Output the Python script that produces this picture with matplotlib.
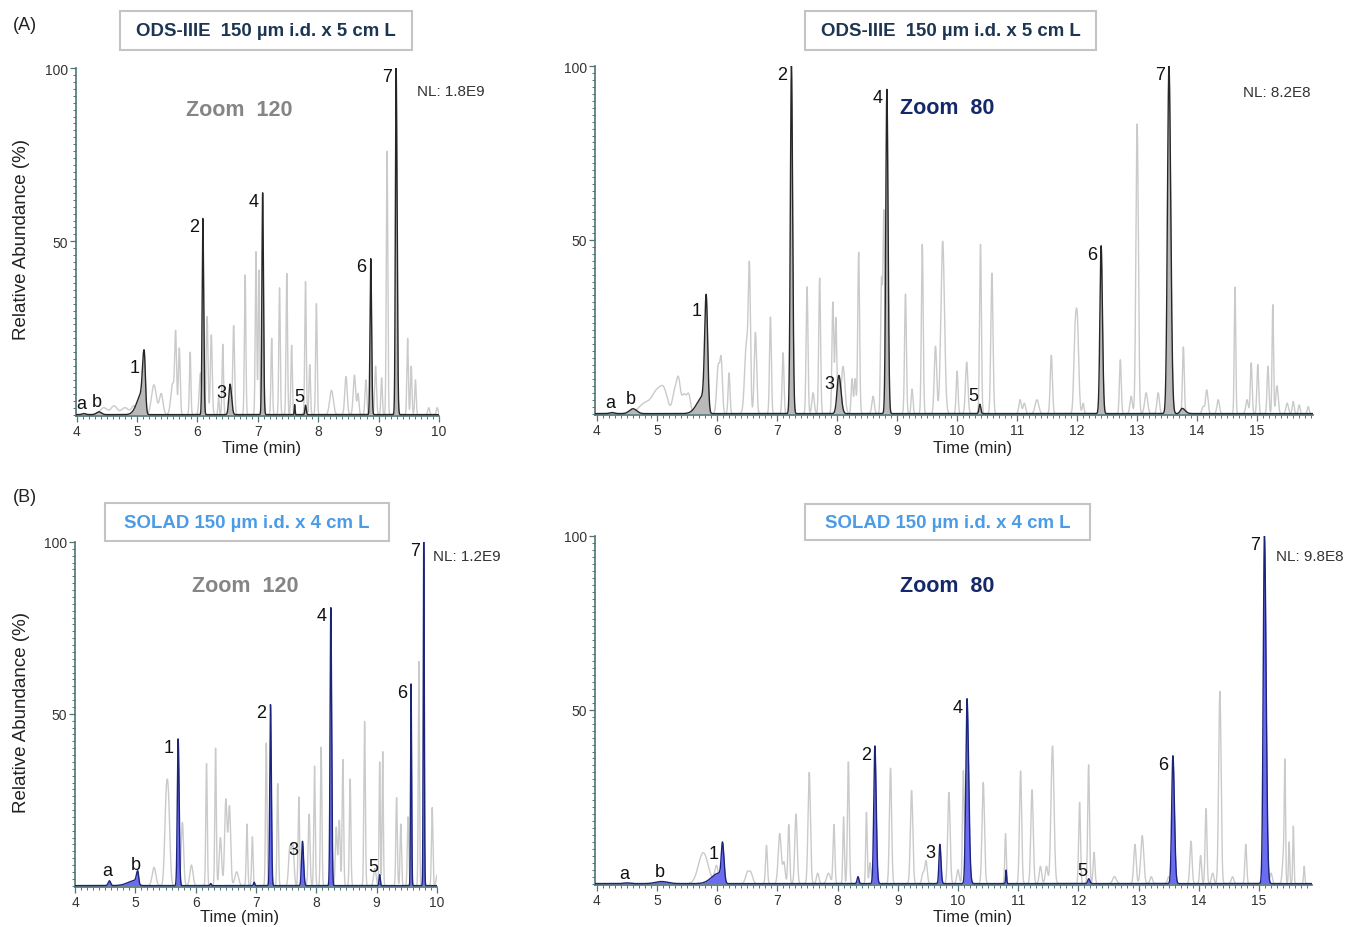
import numpy as np
import matplotlib
matplotlib.use("Agg")
import matplotlib.pyplot as plt
from matplotlib.patches import Rectangle
from matplotlib.ticker import MultipleLocator, FixedLocator

plt.rcParams['font.family'] = ['Liberation Sans', 'DejaVu Sans']

W, H = 1346, 928

# ---- (A) ODS-IIIE, zoom 120 : highlighted peaks ----
a120_x = [4.12, 4.37, 5.08, 5.12, 6.09, 6.54, 7.08, 7.61, 7.79, 8.87, 9.29]
a120_h = [0.3, 0.8, 6.0, 16.0, 56.6, 8.8, 64.0, 2.9, 2.7, 45.0, 100.0]
a120_wl = [0.03, 0.04, 0.08, 0.025, 0.012, 0.02, 0.012, 0.006, 0.01, 0.012, 0.012]
a120_wr = [0.03, 0.04, 0.03, 0.02, 0.014, 0.025, 0.014, 0.006, 0.012, 0.014, 0.016]
a120_lab = ['a', 'b', '', '1', '2', '3', '4', '', '5', '6', '7']
# background trace
a120_gx = [4.45, 4.62, 4.8, 4.95, 5.28, 5.4, 5.59, 5.64, 5.7, 5.88, 6.05, 6.16, 6.23,
           6.35, 6.42, 6.6, 6.79, 6.97, 7.02, 7.23, 7.36, 7.48, 7.56, 7.79, 7.86, 7.97,
           8.22, 8.46, 8.6, 8.66, 8.79, 8.95, 9.05, 9.14, 9.48, 9.54, 9.61, 9.83, 9.97]
a120_gh = [2.0, 2.5, 2.0, 2.5, 8.6, 6.0, 9.0, 22, 19.2, 18, 12, 28.3, 23,
           5, 20.3, 25.7, 40.3, 47, 41.7, 22, 36.6, 40.7, 20, 38.4, 14.4, 32,
           7, 11, 11.4, 6, 10, 14, 10.6, 76, 22, 14, 10, 2, 2]
a120_gw = [0.06, 0.05, 0.06, 0.04, 0.04, 0.03, 0.03, 0.015, 0.015, 0.012, 0.02, 0.015, 0.015,
           0.01, 0.012, 0.015, 0.012, 0.012, 0.012, 0.012, 0.012, 0.012, 0.012, 0.012, 0.012, 0.012,
           0.03, 0.02, 0.02, 0.015, 0.015, 0.015, 0.012, 0.012, 0.012, 0.012, 0.012, 0.015, 0.015]

# ---- (A) ODS-IIIE, zoom 80 ----
a80_x = [4.25, 4.6, 5.77, 5.82, 7.24, 8.03, 8.83, 10.38, 12.40, 13.53, 13.75]
a80_h = [0.3, 1.4, 5.0, 32.0, 100.0, 11.0, 93.3, 2.7, 48.3, 100.0, 1.5]
a80_wl = [0.04, 0.06, 0.1, 0.025, 0.018, 0.03, 0.018, 0.015, 0.02, 0.025, 0.03]
a80_wr = [0.04, 0.06, 0.04, 0.025, 0.02, 0.035, 0.02, 0.015, 0.022, 0.03, 0.05]
a80_lab = ['a', 'b', '', '1', '2', '3', '4', '5', '6', '7', '']
a80_gx = [4.8, 5.0, 5.12, 5.3, 5.36, 5.45, 5.53, 6.02, 6.07, 6.2, 6.49, 6.54, 6.64, 6.89,
          7.1, 7.5, 7.6, 7.71, 7.93, 7.98, 8.1, 8.25, 8.3, 8.36, 8.6, 8.74, 8.78, 9.14,
          9.25, 9.42, 9.64, 9.76, 10.0, 10.16, 10.39, 10.58, 11.05, 11.12, 11.33, 11.57,
          11.96, 12.0, 12.1, 12.72, 12.9, 13.0, 13.15, 13.35, 13.77, 14.1, 14.16, 14.35,
          14.63, 14.83, 14.9, 15.01, 15.18, 15.26, 15.33, 15.5, 15.6, 15.7, 15.85]
a80_gh = [3, 6, 5.5, 6.5, 8, 5.5, 5, 13.6, 14.5, 11.7, 20, 38.5, 23.4, 27.8,
          17.5, 36.5, 6, 39, 32, 27.5, 13.6, 10, 10, 46.4, 5, 37.5, 57.5, 34.4,
          7, 48.7, 19.4, 49.6, 12.2, 14.8, 48.7, 40.4, 4, 3, 4, 16.8,
          16, 27.3, 3, 15.5, 5, 83.3, 6, 6, 19.2, 2, 6.8, 4,
          36.4, 4, 14.6, 14.1, 13.6, 31.3, 8, 3, 3.5, 2.5, 2]
a80_gw = [0.1, 0.08, 0.06, 0.04, 0.03, 0.04, 0.03, 0.025, 0.02, 0.015, 0.03, 0.018, 0.02, 0.015,
          0.015, 0.015, 0.02, 0.015, 0.015, 0.015, 0.03, 0.015, 0.015, 0.015, 0.02, 0.015, 0.015, 0.015,
          0.015, 0.015, 0.02, 0.03, 0.015, 0.02, 0.015, 0.018, 0.02, 0.02, 0.03, 0.018,
          0.02, 0.025, 0.015, 0.015, 0.02, 0.02, 0.025, 0.02, 0.015, 0.02, 0.02, 0.02,
          0.012, 0.02, 0.015, 0.015, 0.015, 0.012, 0.02, 0.02, 0.015, 0.015, 0.015]

# ---- (B) SOLAD, zoom 120 ----
b120_x = [4.57, 5.0, 5.04, 5.71, 6.25, 6.97, 7.24, 7.77, 8.24, 9.05, 9.57, 9.78]
b120_h = [1.4, 1.5, 3.4, 42.7, 0.6, 1.0, 52.7, 12.9, 80.9, 3.2, 58.7, 100.0]
b120_wl = [0.02, 0.12, 0.02, 0.014, 0.01, 0.01, 0.012, 0.015, 0.012, 0.01, 0.008, 0.008]
b120_wr = [0.02, 0.04, 0.015, 0.016, 0.01, 0.01, 0.014, 0.018, 0.014, 0.01, 0.009, 0.009]
b120_lab = ['a', '', 'b', '1', '', '', '2', '3', '4', '5', '6', '7']
b120_gx = [5.31, 5.51, 5.55, 5.78, 5.93, 6.18, 6.33, 6.41, 6.5, 6.56, 6.68, 6.85, 6.94, 7.17,
           7.36, 7.56, 7.61, 7.71, 7.88, 7.97, 8.08, 8.33, 8.38, 8.44, 8.56, 8.8, 8.97, 9.05,
           9.1, 9.33, 9.4, 9.52, 9.7, 9.92, 10.0]
b120_gh = [5.3, 21.7, 21, 18.4, 6, 35.5, 40, 14, 25, 23, 4, 17.9, 14.2, 41.5,
           29.7, 11, 12, 25.8, 20.8, 34.8, 40.3, 17, 19, 36.7, 31, 47.8, 5, 36,
           39, 25.6, 17.9, 20, 65.2, 22.7, 3]
b120_gw = [0.03, 0.025, 0.025, 0.02, 0.025, 0.012, 0.012, 0.02, 0.02, 0.02, 0.03, 0.012, 0.012, 0.012,
           0.012, 0.02, 0.02, 0.012, 0.015, 0.012, 0.012, 0.015, 0.015, 0.012, 0.012, 0.012, 0.02, 0.01,
           0.01, 0.012, 0.012, 0.012, 0.01, 0.012, 0.015]

# ---- (B) SOLAD, zoom 80 ----
b80_x = [4.5, 5.08, 6.03, 6.09, 8.34, 8.62, 9.7, 10.15, 10.8, 12.17, 13.57, 15.09]
b80_h = [0.2, 0.6, 3.0, 11.0, 2.0, 39.6, 11.3, 53.2, 3.9, 1.4, 36.8, 100.0]
b80_wl = [0.05, 0.1, 0.12, 0.02, 0.015, 0.018, 0.015, 0.02, 0.008, 0.015, 0.02, 0.02]
b80_wr = [0.05, 0.1, 0.04, 0.025, 0.015, 0.022, 0.018, 0.028, 0.008, 0.02, 0.025, 0.028]
b80_lab = ['a', 'b', '', '1', '', '2', '3', '4', '', '5', '6', '7']
b80_gx = [5.77, 5.99, 6.5, 6.56, 6.82, 7.04, 7.11, 7.19, 7.31, 7.53, 7.67, 7.85, 7.94, 8.1,
          8.18, 8.48, 8.54, 8.88, 9.23, 9.42, 9.47, 9.85, 10.0, 10.09, 10.42, 10.79, 11.04,
          11.23, 11.37, 11.47, 11.57, 12.02, 12.17, 12.26, 12.6, 12.94, 13.06, 13.21, 13.5,
          13.87, 14.03, 14.12, 14.23, 14.35, 14.56, 14.78, 15.2, 15.41, 15.43, 15.5, 15.57, 15.75]
b80_gh = [8.9, 5, 3, 3, 11, 14.4, 6, 17, 20, 32, 3, 3, 17, 19.2,
          35, 20.5, 6, 33.2, 26.8, 3, 6.5, 26.2, 4, 32.5, 29.1, 14.4, 32.4,
          27, 5, 5, 39.6, 23.4, 34.2, 9, 2, 11.3, 13.8, 2, 2,
          12.2, 8.1, 21.6, 3, 55.3, 2, 11.3, 3, 9, 30.3, 12, 16.5, 5]
b80_gw = [0.08, 0.03, 0.03, 0.03, 0.015, 0.025, 0.02, 0.015, 0.02, 0.02, 0.02, 0.03, 0.015, 0.012,
          0.015, 0.012, 0.015, 0.018, 0.02, 0.02, 0.02, 0.02, 0.02, 0.015, 0.02, 0.012, 0.018,
          0.02, 0.02, 0.02, 0.025, 0.015, 0.015, 0.015, 0.03, 0.02, 0.025, 0.02, 0.02,
          0.018, 0.015, 0.015, 0.02, 0.02, 0.02, 0.015, 0.02, 0.02, 0.01, 0.01, 0.01, 0.01]


def trace(t, xs, hs, wl, wr):
    y = np.zeros_like(t)
    for x0, h, a, b in zip(xs, hs, wl, wr):
        w = np.where(t < x0, a, b)
        y += h * np.exp(-0.5 * ((t - x0) / w) ** 2)
    return y


def fx(px):
    return px / W


def fy(py):
    return 1 - py / H


fig = plt.figure(figsize=(W / 100, H / 100), dpi=100)

panels = [
    # axes rect in pixels (left, top, right, bottom), xlim, peaks, grey, fill, edge
    dict(rect=(76, 69, 439, 417), xlim=(3.99, 10.0), xt=range(4, 11),
         hi=(a120_x, a120_h, a120_wl, a120_wr, a120_lab), gr=(a120_gx, a120_gh, a120_gw),
         fill='#b9b9b9', edge='#262626'),
    dict(rect=(595, 67, 1313, 416), xlim=(3.967, 15.93), xt=range(4, 16),
         hi=(a80_x, a80_h, a80_wl, a80_wr, a80_lab), gr=(a80_gx, a80_gh, a80_gw),
         fill='#b9b9b9', edge='#262626'),
    dict(rect=(75, 543, 437, 888), xlim=(4.0, 10.0), xt=range(4, 11),
         hi=(b120_x, b120_h, b120_wl, b120_wr, b120_lab), gr=(b120_gx, b120_gh, b120_gw),
         fill='#6b6cf0', edge='#1b237a'),
    dict(rect=(595, 537, 1312, 886), xlim=(3.972, 15.88), xt=range(4, 16),
         hi=(b80_x, b80_h, b80_wl, b80_wr, b80_lab), gr=(b80_gx, b80_gh, b80_gw),
         fill='#6b6cf0', edge='#1b237a'),
]

spine_c = '#4f7474'
for p in panels:
    l, t_, r, b = p['rect']
    ax = fig.add_axes([fx(l), fy(b), fx(r - l), (b - t_) / H])
    t = np.linspace(p['xlim'][0], p['xlim'][1], 12000)
    gx, gh, gw = p['gr']
    yg = trace(t, gx, gh, gw, gw)
    ax.plot(t, yg, color='#cacaca', lw=1.0, zorder=1)
    hx, hh, hwl, hwr, hlab = p['hi']
    yh = trace(t, hx, hh, hwl, hwr)
    ax.fill_between(t, 0, yh, color=p['fill'], lw=0, zorder=2)
    ax.plot(t, yh, color=p['edge'], lw=1.0, zorder=3)
    for x0, h0, lab in zip(hx, hh, hlab):
        if not lab:
            continue
        if lab in ('a', 'b'):
            ax.annotate(lab, (x0, h0), xytext=(2, 1), textcoords='offset points',
                        ha='right', va='bottom', fontsize=13, color='#111111')
        elif h0 < 6:
            ax.annotate(lab, (x0, h0), xytext=(-1, 0), textcoords='offset points',
                        ha='right', va='bottom', fontsize=13, color='#111111')
        else:
            ax.annotate(lab, (x0, h0), xytext=(-3, -6), textcoords='offset points',
                        ha='right', va='center', fontsize=13, color='#111111')
    ax.set_xlim(*p['xlim'])
    ax.set_ylim(-0.4, 100)
    for s in ('top', 'right'):
        ax.spines[s].set_visible(False)
    for s in ('left', 'bottom'):
        ax.spines[s].set_color(spine_c)
        ax.spines[s].set_linewidth(1.2)
    ax.xaxis.set_major_locator(FixedLocator(list(p['xt'])))
    ax.xaxis.set_minor_locator(MultipleLocator(0.1))
    ax.yaxis.set_major_locator(FixedLocator([50, 100]))
    ax.yaxis.set_minor_locator(MultipleLocator(2))
    ax.tick_params(axis='both', which='major', length=4, width=0.9, color=spine_c,
                   labelsize=10, labelcolor='#333333', pad=2)
    ax.tick_params(axis='both', which='minor', length=2.5, width=0.7, color=spine_c)
    ax.set_facecolor('none')

# panel letters
fig.text(fx(25), fy(25), '(A)', fontsize=13, ha='center', va='center', color='#222222')
fig.text(fx(25), fy(498), '(B)', fontsize=13, ha='center', va='center', color='#222222')

# column titles in boxes
boxes = [
    ((120, 12, 412, 51), 'ODS-IIIE  150 µm i.d. x 5 cm L', '#1c3553'),
    ((805, 12, 1096, 51), 'ODS-IIIE  150 µm i.d. x 5 cm L', '#1c3553'),
    ((105, 504, 389, 542), 'SOLAD 150 µm i.d. x 4 cm L', '#4b9be6'),
    ((805, 505, 1090, 541), 'SOLAD 150 µm i.d. x 4 cm L', '#4b9be6'),
]
for (x0, y0, x1, y1), txt, c in boxes:
    fig.add_artist(Rectangle((fx(x0), fy(y1)), fx(x1 - x0), (y1 - y0) / H,
                             transform=fig.transFigure, fc='white', ec='#c4c4c4', lw=1.5))
    fig.text(fx((x0 + x1) / 2), fy((y0 + y1) / 2), txt, fontsize=13.4, fontweight='bold',
             color=c, ha='center', va='center')

# zoom labels
fig.text(fx(239), fy(110), 'Zoom  120', fontsize=15.5, fontweight='bold', color='#858585',
         ha='center', va='center')
fig.text(fx(947), fy(108), 'Zoom  80', fontsize=15.5, fontweight='bold', color='#14286a',
         ha='center', va='center')
fig.text(fx(245), fy(587), 'Zoom  120', fontsize=15.5, fontweight='bold', color='#858585',
         ha='center', va='center')
fig.text(fx(947), fy(587), 'Zoom  80', fontsize=15.5, fontweight='bold', color='#14286a',
         ha='center', va='center')

# NL labels
for x, y, s in [(417, 92, 'NL: 1.8E9'), (1243, 93, 'NL: 8.2E8'),
                (433, 557, 'NL: 1.2E9'), (1276, 557, 'NL: 9.8E8')]:
    fig.text(fx(x), fy(y), s, fontsize=11, color='#333333', ha='left', va='center')

# axis titles
for x, y in [(262, 449), (973, 449), (240, 918), (973, 918)]:
    fig.text(fx(x), fy(y), 'Time (min)', fontsize=12, color='#222222', ha='center', va='center')
for y in (240, 713):
    fig.text(fx(22), fy(y), 'Relative Abundance (%)', fontsize=13.5, color='#222222',
             rotation=90, ha='center', va='center')

fig.savefig('out.png', dpi=100, facecolor='white')
